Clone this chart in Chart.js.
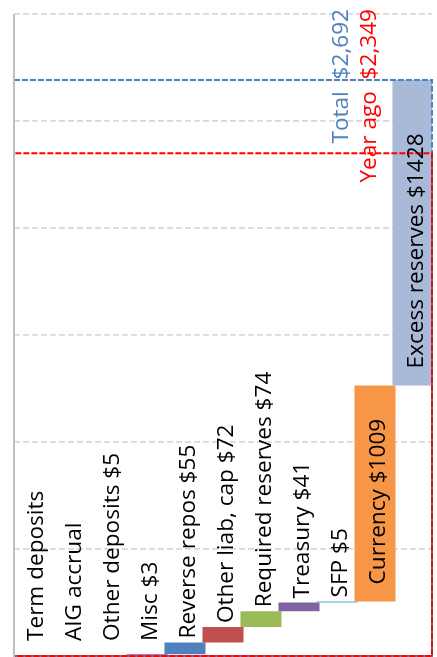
<!DOCTYPE html>
<html><head><meta charset="utf-8">
<script src="https://cdn.jsdelivr.net/npm/chart.js@4.4.1/dist/chart.umd.min.js"></script>
<style>html,body{margin:0;padding:0;background:#fff;overflow:hidden}canvas{display:block}</style>
</head><body>
<canvas id="c" width="437" height="657"></canvas>
<script>
const categories = ['Term deposits', 'AIG accrual', 'Other deposits $5', 'Misc $3', 'Reverse repos $55',
  'Other liab, cap $72', 'Required reserves $74', 'Treasury $41', 'SFP $5', 'Currency $1009', 'Excess reserves $1428'];
const changes = [0, 0, 5, 3, 55, 72, 74, 41, 5, 1009, 1428];
const barColors = ['#4F81BD', '#C0504D', '#9BBB59', '#7F5F9E', '#4F81BD', '#C0504D', '#9BBB59', '#8064A2', '#4BACC6', '#F79646', '#A9B9D8'];
const totalValue = 2692;
const yearAgoValue = 2349;
const totalLabel = 'Total  $2,692';
const yearAgoLabel = 'Year ago  $2,349';
const yMin = 0, yMax = 3000, yStep = 500;

const ranges = [];
let run = 0;
changes.forEach(v => { ranges.push([run, run + v]); run += v; });

const FONT = '22.6px "Open Sans"';

const overlay = {
  id: 'overlay',
  afterDatasetsDraw(chart) {
    const {ctx, chartArea: a, scales: {x, y}} = chart;
    ctx.save();
    const base = y.getPixelForValue(0);
    function rect(val, color) {
      const t = y.getPixelForValue(val);
      ctx.setLineDash([6, 2]);
      ctx.strokeStyle = color;
      ctx.lineWidth = 2;
      ctx.beginPath();
      ctx.moveTo(a.left, base); ctx.lineTo(a.left, t); ctx.lineTo(a.right, t); ctx.lineTo(a.right, base); ctx.closePath();
      ctx.stroke();
    }
    rect(totalValue, '#4F81BD');
    rect(yearAgoValue, '#FF0000');
    ctx.setLineDash([]);
    ctx.strokeStyle = '#BFBFBF';
    ctx.lineWidth = 2;
    ctx.beginPath(); ctx.moveTo(a.left, a.top); ctx.lineTo(a.left, base + 1); ctx.stroke();

    ctx.font = FONT;
    ctx.textBaseline = 'alphabetic';
    function vtext(txt, bx, by, color, align) {
      ctx.save();
      ctx.translate(bx, by);
      ctx.rotate(-Math.PI / 2);
      ctx.textAlign = align;
      ctx.fillStyle = color;
      ctx.fillText(txt, 0, 0);
      ctx.restore();
    }
    categories.forEach((c, i) => {
      const cx = x.getPixelForValue(i);
      const top = y.getPixelForValue(ranges[i][1]);
      const bot = y.getPixelForValue(ranges[i][0]);
      const w = ctx.measureText(c).width;
      let sy;
      if (bot - top > w + 25) sy = bot - 17;
      else sy = Math.min(top - 4, base - 15);
      vtext(c, cx + 9.5, sy, '#000000', 'left');
    });
    vtext(totalLabel, a.right - 84, 9, '#4F81BD', 'right');
    vtext(yearAgoLabel, a.right - 56, 9, '#FF0000', 'right');
    ctx.restore();
  }
};

new Chart(document.getElementById('c'), {
  type: 'bar',
  data: {
    labels: categories,
    datasets: [{
      data: ranges,
      backgroundColor: barColors,
      borderWidth: 0,
      categoryPercentage: 1,
      barPercentage: 1.08
    }]
  },
  options: {
    responsive: false,
    animation: false,
    layout: {padding: {left: 14, right: 5, top: 14, bottom: 1}},
    plugins: {legend: {display: false}, tooltip: {enabled: false}},
    scales: {
      x: {display: false},
      y: {
        min: yMin, max: yMax,
        afterFit(s) { s.width = 0; },
        ticks: {display: false, stepSize: yStep},
        grid: {color: '#D9D9D9', lineWidth: 1.8, drawTicks: false},
        border: {display: false, dash: [6, 3]}
      }
    }
  },
  plugins: [overlay]
});
</script>
</body></html>
